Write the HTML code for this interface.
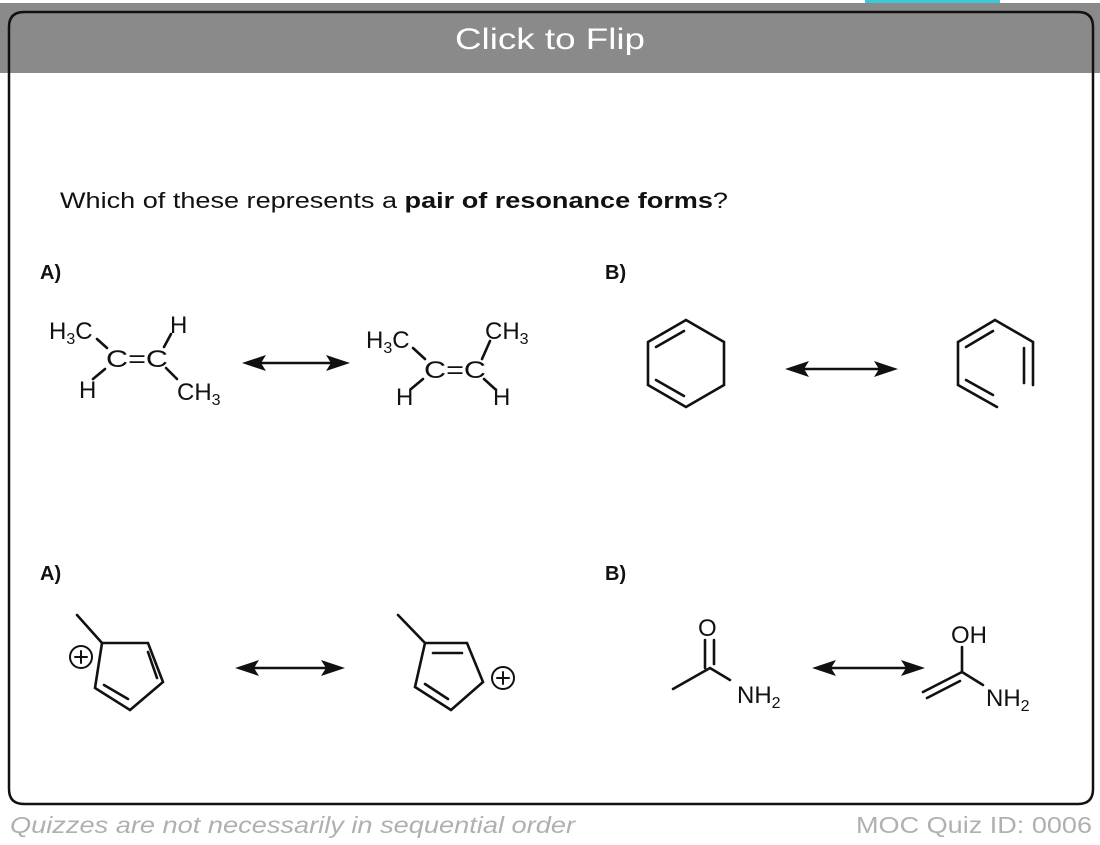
<!DOCTYPE html>
<html><head><meta charset="utf-8"><style>
html,body{margin:0;padding:0;background:#fff;width:1100px;height:845px;overflow:hidden}
svg{display:block}
text{font-family:"Liberation Sans",sans-serif}
</style></head><body>
<svg width="1100" height="845" viewBox="0 0 1100 845" xmlns="http://www.w3.org/2000/svg">
<rect x="0" y="3" width="1100" height="70" fill="#8a8a8a"/>
<rect x="865" y="0" width="135" height="3" fill="#3cc8d8"/>
<path d="M9,73 L9,27 Q9,12 24,12 L1078,12 Q1093,12 1093,27 L1093,73" fill="#8a8a8a" stroke="#111" stroke-width="2.5"/>
<path d="M9,73 L9,789 Q9,804 24,804 L1078,804 Q1093,804 1093,789 L1093,73" fill="#fff" stroke="#111" stroke-width="2.5"/>
<text x="550" y="49" font-size="30" fill="#fff" text-anchor="middle" textLength="190" lengthAdjust="spacingAndGlyphs">Click to Flip</text>

<text x="60" y="208" font-size="22" fill="#111" textLength="668" lengthAdjust="spacingAndGlyphs">Which of these represents a <tspan font-weight="bold">pair of resonance forms</tspan>?</text>

<g font-weight="bold" font-size="20" fill="#111">
<text x="40" y="279">A)</text><text x="605" y="279">B)</text>
<text x="40" y="580">A)</text><text x="605" y="580">B)</text>
</g>

<g stroke="#111" stroke-width="2.6" fill="none" stroke-linecap="round">
<line x1="97" y1="339" x2="107" y2="348"/><line x1="93" y1="379" x2="105" y2="369"/>
<line x1="164" y1="347" x2="171" y2="334"/><line x1="166" y1="368" x2="177" y2="379"/>
<line x1="413" y1="348" x2="425" y2="359"/><line x1="411" y1="389" x2="423" y2="379"/>
<line x1="482" y1="359" x2="490" y2="341"/><line x1="484" y1="379" x2="495" y2="389"/>
<line x1="260" y1="363" x2="332" y2="363"/>
<line x1="803" y1="369" x2="880" y2="369"/>
<line x1="253" y1="668" x2="327" y2="668"/>
<line x1="830" y1="668" x2="907" y2="668"/>
<polygon points="686,320 724,342 724,385 686,407 648,385 648,342"/>
<line x1="656" y1="347" x2="684" y2="331"/><line x1="656" y1="380" x2="684" y2="396"/>
<polyline points="997,407 958,385 958,342 995,320 1033,342 1033,385"/>
<line x1="966" y1="347" x2="993" y2="331"/><line x1="1024" y1="348" x2="1024" y2="383"/>
<line x1="966" y1="380" x2="993" y2="395"/>
<polygon points="102,643 148,643 163,682 130,710 95,688"/>
<line x1="77" y1="615" x2="102" y2="643"/>
<line x1="148" y1="652" x2="157" y2="678"/><line x1="104" y1="685" x2="128" y2="699"/>
<circle cx="81" cy="657" r="11" stroke-width="2"/>
<line x1="75" y1="657" x2="87" y2="657" stroke-width="2"/><line x1="81" y1="651" x2="81" y2="663" stroke-width="2"/>
<polygon points="425,643 467,643 483,682 451,710 415,687"/>
<line x1="398" y1="615" x2="425" y2="643"/>
<line x1="433" y1="653" x2="462" y2="653"/><line x1="425" y1="684" x2="448" y2="699"/>
<circle cx="503" cy="678" r="11" stroke-width="2"/>
<line x1="497" y1="678" x2="509" y2="678" stroke-width="2"/><line x1="503" y1="672" x2="503" y2="684" stroke-width="2"/>
<polyline points="673,689 710,668 730,680"/>
<line x1="705" y1="640" x2="705" y2="668"/><line x1="714" y1="640" x2="714" y2="664"/>
<line x1="962" y1="647" x2="962" y2="672"/><line x1="962" y1="672" x2="983" y2="685"/>
<line x1="962" y1="672" x2="923" y2="692"/><line x1="960" y1="681" x2="927" y2="698"/>
</g>
<g fill="#111">
<polygon points="242,363 266,355 261,363 266,371"/><polygon points="350,363 326,355 331,363 326,371"/>
<polygon points="785,369 809,361 804,369 809,377"/><polygon points="898,369 874,361 879,369 874,377"/>
<polygon points="235,668 259,660 254,668 259,676"/><polygon points="345,668 321,660 326,668 321,676"/>
<polygon points="812,668 836,660 831,668 836,676"/><polygon points="925,668 901,660 906,668 901,676"/>
</g>

<g font-size="24" fill="#111">
<text x="49" y="339">H<tspan font-size="16" dy="5">3</tspan><tspan dy="-5">C</tspan></text>
<text x="106" y="367" textLength="62" lengthAdjust="spacingAndGlyphs">C=C</text>
<text x="170" y="333">H</text>
<text x="79" y="398">H</text>
<text x="177" y="400">CH<tspan font-size="16" dy="5">3</tspan></text>

<text x="366" y="348">H<tspan font-size="16" dy="5">3</tspan><tspan dy="-5">C</tspan></text>
<text x="424" y="378" textLength="62" lengthAdjust="spacingAndGlyphs">C=C</text>
<text x="485" y="339">CH<tspan font-size="16" dy="5">3</tspan></text>
<text x="396" y="405">H</text>
<text x="493" y="405">H</text>

<text x="698" y="636">O</text>
<text x="737" y="703">NH<tspan font-size="16" dy="5">2</tspan></text>
<text x="951" y="643">OH</text>
<text x="986" y="706">NH<tspan font-size="16" dy="5">2</tspan></text>
</g>

<text x="10" y="833" font-size="23" font-style="italic" fill="#b0b0b0" textLength="565" lengthAdjust="spacingAndGlyphs">Quizzes are not necessarily in sequential order</text>
<text x="1092" y="833" font-size="23" fill="#b0b0b0" text-anchor="end" textLength="236" lengthAdjust="spacingAndGlyphs">MOC Quiz ID: 0006</text>
</svg>
</body></html>
